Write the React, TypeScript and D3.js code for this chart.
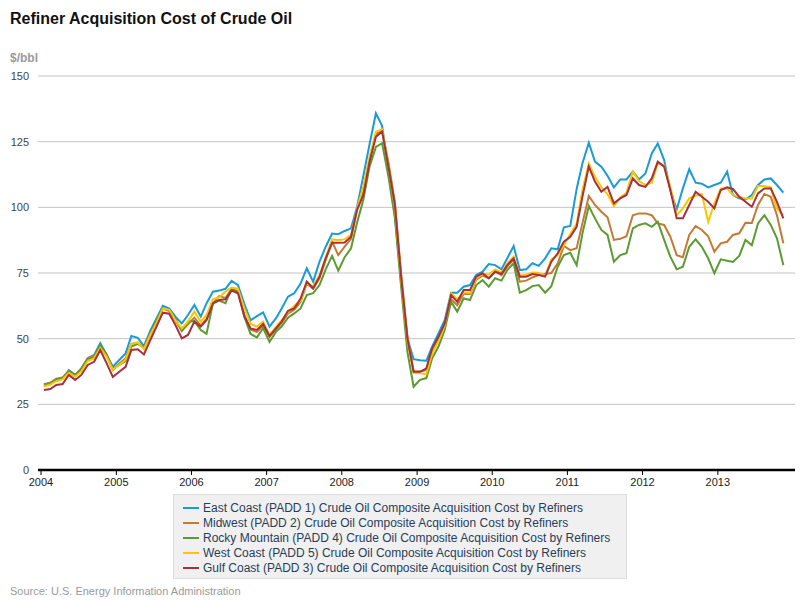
import { useEffect } from "react"
import * as d3 from "d3"

// Monthly values, Jan 2004 .. Nov 2013 ($/bbl)
const eastCoast = [
  32.7, 33.2, 34.5, 35, 38, 36.2, 38.7, 42.5, 43.8, 48.3, 43.8, 39.3,
  41.9, 44.4, 51, 50.3, 47.2, 53, 57.7, 62.5, 61.5, 58.4, 55.8, 59,
  62.8, 58.4, 63.4, 67.9, 68.3, 69, 72, 70.4, 63.2, 57, 58.6, 60,
  54.6, 57.7, 61.5, 66, 67.3, 71, 76.8, 71.7, 79.3, 85, 90, 89.8,
  91, 92, 100, 112, 124, 135.8, 131, 114, 97, 72, 50, 42.2,
  41.8, 41.6, 47, 52, 57, 67.5, 67.5, 69.8, 70.4, 74.2, 75.5, 78.4,
  78, 76.4, 80.6, 85.3, 76.1, 76.4, 78.7, 77.7, 80.6, 84.4, 84, 92.4,
  92.9, 107, 116.7, 124.6, 117.4, 115.5, 112, 107.6, 110.6, 110.6, 113.6, 110.6,
  112.9, 120.5, 124.3, 118, 106.6, 99.2, 107.2, 114.5, 109.4, 109, 107.6, 108.5,
  109.4, 113.6, 104.7, 103.4, 103, 104.7, 108.5, 110.6, 111, 108.5, 105.6,
]

const midwest = [
  32.5, 33.2, 34.8, 35.2, 37.5, 36, 38.5, 42.6, 43.5, 47, 43.5, 38,
  40.5, 42.5, 48, 48.5, 46.5, 52, 56, 61.5, 60.5, 57, 53, 55.5,
  58, 55, 57.5, 63.4, 66.2, 65.5, 69, 68, 59, 53.5, 52.5, 55,
  50.7, 53.5, 56, 59.5, 61, 64, 71, 69, 73, 80, 87, 81.8,
  85, 88, 99, 106, 118, 128, 129, 117, 102, 75, 51, 37.5,
  37.5, 38, 45, 49.5, 55, 65, 62.7, 67, 67, 72.5, 74, 73,
  75.5, 74.2, 77.5, 80, 71.7, 72.1, 73.3, 74.2, 74.6, 75, 78.7, 85.3,
  83.7, 84.4, 93.9, 104.3, 100.9, 98.3, 96.2, 87.6, 88, 89, 97, 97.7,
  97.7, 97, 93.9, 93.3, 88.8, 81.8, 81, 89.5, 92.9, 91.4, 89, 83.1,
  86.3, 86.9, 89.5, 90.1, 94.1, 94, 100.9, 105.1, 104, 97, 86.3,
]

const rockyMountain = [
  32, 32.8, 34.5, 35, 37.5, 36, 38.5, 42, 43, 47.5, 44, 38.5,
  40, 41.5, 47, 48, 46.5, 51.5, 57, 61.5, 61, 57.5, 53, 56.5,
  56.7, 53.3, 51.8, 63.4, 64.5, 63.5, 69, 68, 58.4, 51.8, 50.5, 54,
  48.8, 52.6, 54.6, 58, 59.6, 61.5, 66.6, 67.3, 70.4, 76.4, 81.5, 75.9,
  81, 84.4, 94, 103, 115.5, 123, 124.4, 111.6, 96, 70, 45, 31.7,
  34.3, 35, 42.5, 47, 53.3, 64, 60.3, 65.3, 64.7, 70.4, 72.3, 69.8,
  73, 72.1, 76.1, 78.7, 67.5, 68.5, 70, 70.4, 67.5, 70, 77.4, 81.8,
  82.7, 78, 90, 100.5, 95.8, 91.4, 89.5, 79.3, 81.8, 82.5, 92, 93.3,
  93.9, 92.6, 94.5, 87.6, 81.2, 76.4, 77.4, 85, 87.8, 85, 80.6, 74.9,
  80.2, 79.7, 79.2, 81.5, 87.6, 85.6, 93.9, 97, 93.3, 88.2, 78,
]

const westCoast = [
  31.8, 32.5, 33.8, 34.5, 37, 35.5, 37.5, 41.5, 42.5, 46.5, 43, 38.2,
  40, 42, 48, 48.5, 46, 51.5, 56, 61.5, 61, 57, 53.9, 56.5,
  60.3, 56.5, 59, 65, 65.7, 67.9, 69.5, 69, 61.5, 55.6, 54.6, 56.5,
  51.4, 54.5, 57, 60, 62.5, 64.5, 71, 70, 74.2, 81, 87.8, 87.6,
  87.8, 89.5, 99.5, 107.9, 119.3, 128.8, 129.7, 116, 100, 73, 49, 37,
  36.8, 36.5, 44.4, 49, 55, 67.3, 65, 67.5, 67.5, 73, 74.5, 74.5,
  76.4, 75.2, 78.7, 81.2, 74, 74.3, 75.2, 75, 74, 80.2, 81.8, 85.6,
  89.8, 93.8, 106.6, 116.7, 111.6, 107.7, 105, 100.5, 103.8, 105.5, 113.6, 110,
  108.5, 109.4, 116.7, 116, 107.8, 97, 99.6, 103.4, 104.4, 105.1, 94.5, 101.5,
  107.1, 107.2, 104.7, 104, 103.4, 103.4, 108.1, 108.1, 107.6, 99.6, 97,
]

const gulfCoast = [
  30.5, 30.8, 32.4, 32.7, 36.2, 34.3, 36.2, 40, 41.2, 45.7, 40.6, 35.4,
  37.4, 39.3, 45.7, 46, 44, 49.5, 54.6, 59.9, 59.5, 55.2, 50.1, 51.4,
  56.5, 54.6, 57, 63.4, 64.7, 65, 68.3, 67.3, 58.4, 53.9, 53.3, 55.6,
  51, 53.9, 56.5, 60.6, 61.5, 65.3, 71.7, 69.2, 73.6, 80.6, 86.5, 86.5,
  86.6, 88.8, 99, 104.7, 117.4, 126.9, 128.8, 115.5, 101, 74, 50, 37.4,
  37.4, 38.7, 46.3, 50.7, 55.8, 66.6, 64, 68.5, 68.5, 73.6, 74.9, 73,
  75.5, 74.6, 78, 80.6, 73.6, 73.6, 74.6, 74.2, 73.6, 79.3, 82.5, 86.9,
  88.8, 92.6, 104, 115.5, 109.8, 105.9, 107.8, 101.5, 103.4, 104.7, 111, 108.5,
  107.8, 111, 117.4, 115.5, 106.6, 95.8, 95.8, 100.9, 105.9, 104, 102.1, 99.6,
  106.6, 107.6, 107, 104, 102.1, 100.2, 105.3, 107.2, 107.2, 102.1, 95.8,
]

const seriesNames = [
  "East Coast (PADD 1) Crude Oil Composite Acquisition Cost by Refiners",
  "Midwest (PADD 2) Crude Oil Composite Acquisition Cost by Refiners",
  "Rocky Mountain (PADD 4) Crude Oil Composite Acquisition Cost by Refiners",
  "West Coast (PADD 5) Crude Oil Composite Acquisition Cost by Refiners",
  "Gulf Coast (PADD 3) Crude Oil Composite Acquisition Cost by Refiners",
]
const seriesValues = [eastCoast, midwest, rockyMountain, westCoast, gulfCoast]
const seriesColors = ["#1a9ad6", "#c47a34", "#5b9b32", "#fcc500", "#a6303c"]

const yTicks = [0, 25, 50, 75, 100, 125, 150]
const xYears = [2004, 2005, 2006, 2007, 2008, 2009, 2010, 2011, 2012, 2013]

const FONT = "'Liberation Sans', Arial, Helvetica, sans-serif"

export default function App() {
  useEffect(() => {
    document.body.style.margin = "0"
  }, [])

  const x = d3
    .scaleTime()
    .domain([new Date(2004, 0, 1), new Date(2014, 0, 1)])
    .range([41, 793])
  const y = d3.scaleLinear().domain([0, 150]).range([470, 76])

  const dateOf = (i: number) => new Date(2004, i, 15)

  const line = d3
    .line<number>()
    .x((_, i) => x(dateOf(i)))
    .y((d) => y(d))

  return (
    <svg width={800} height={600} style={{ display: "block", fontFamily: FONT }}>
      <rect width={800} height={600} fill="#ffffff" />

      <text x={10} y={24} fontSize={16} fontWeight="bold" fill="#111">
        Refiner Acquisition Cost of Crude Oil
      </text>
      <text x={10} y={62} fontSize={12} fontWeight="bold" fill="#9a9a9a">
        $/bbl
      </text>

      {/* grid + y labels */}
      {yTicks.map((t) => (
        <g key={t}>
          {t > 0 && (
            <line x1={38} x2={795} y1={y(t)} y2={y(t)} stroke="#c4c4c4" strokeWidth={1} />
          )}
          <text x={29} y={y(t) + 4} fontSize={11} textAnchor="end" fill="#444">
            {t}
          </text>
        </g>
      ))}

      {/* series */}
      {seriesValues.map((vals, k) => (
        <path
          key={k}
          d={line(vals) || ""}
          fill="none"
          stroke={seriesColors[k]}
          strokeWidth={2}
          strokeLinejoin="miter"
        />
      ))}

      {/* x axis */}
      <line x1={38} x2={795} y1={y(0)} y2={y(0)} stroke="#000" strokeWidth={2.5} />
      {xYears.map((yr) => {
        const px = x(new Date(yr, 0, 1))
        return (
          <g key={yr}>
            <line x1={px} x2={px} y1={y(0)} y2={y(0) + 5} stroke="#000" strokeWidth={1} />
            <text x={px} y={y(0) + 16} fontSize={11} textAnchor="middle" fill="#222">
              {yr}
            </text>
          </g>
        )
      })}

      {/* legend */}
      <rect x={173.5} y={494.5} width={453} height={84} fill="#f0f0f0" stroke="#dcdcdc" />
      {seriesNames.map((name, k) => {
        const ly = 508 + k * 15
        return (
          <g key={name}>
            <line x1={183} x2={199} y1={ly} y2={ly} stroke={seriesColors[k]} strokeWidth={2} />
            <text x={203} y={ly + 4} fontSize={12} fill="#2a3d58">
              {name}
            </text>
          </g>
        )
      })}

      <text x={10} y={595} fontSize={11} fill="#9a9a9a">
        Source: U.S. Energy Information Administration
      </text>
    </svg>
  )
}
